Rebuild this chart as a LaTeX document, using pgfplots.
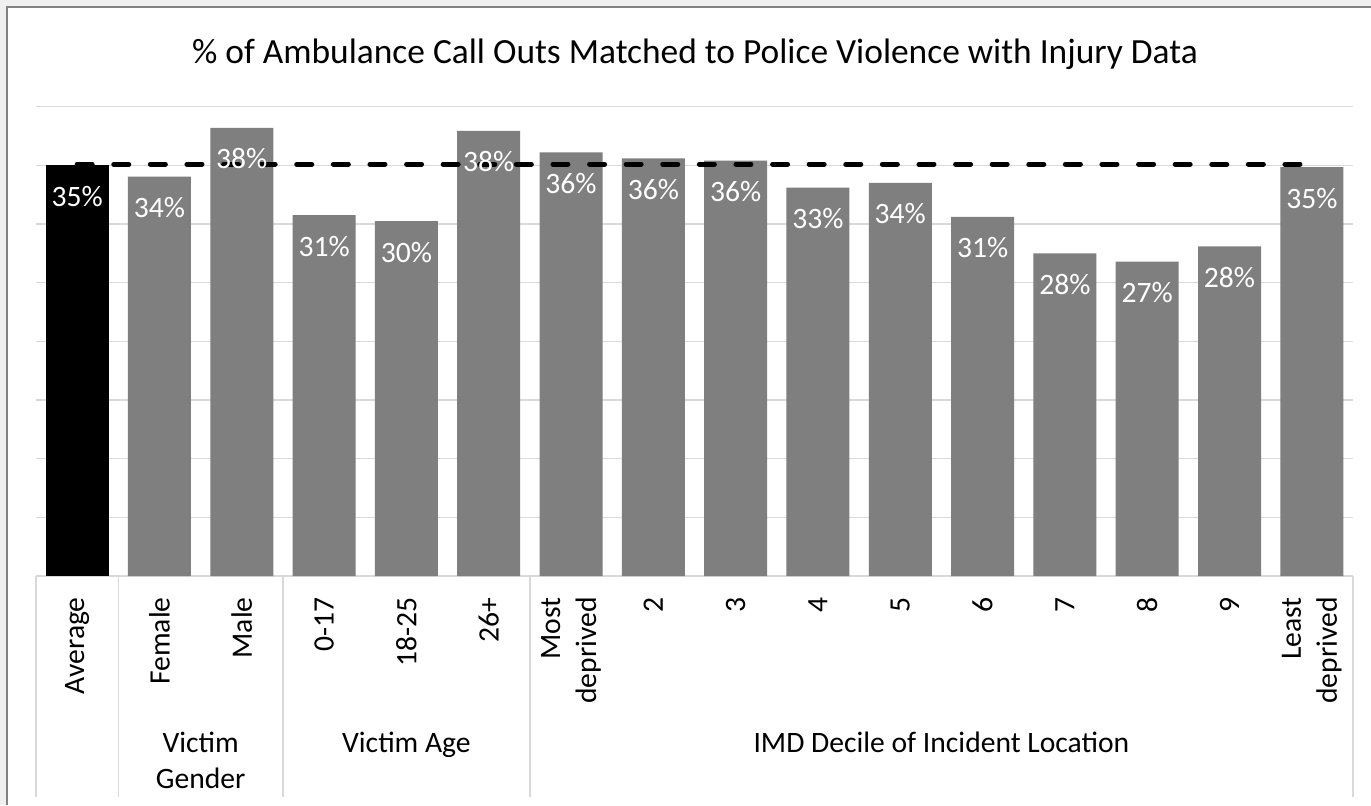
\documentclass[border=0pt]{standalone}
\usepackage{fontspec}
\setmainfont{Carlito}
\usepackage{pgfplots}
\usepackage{pgfplotstable}
\pgfplotsset{compat=1.18}
\definecolor{barg}{RGB}{127,127,127}
\definecolor{gridc}{RGB}{217,217,217}
\definecolor{framec}{RGB}{130,130,130}
\definecolor{outbg}{RGB}{240,240,240}

\pgfplotstableread{
x y lab
1 34.05 34
2 38.2 38
3 30.75 31
4 30.25 30
5 37.95 38
6 36.1 36
7 35.6 36
8 35.4 36
9 33.1 33
10 33.5 34
11 30.6 31
12 27.5 28
13 26.8 27
14 28.1 28
15 34.85 35
}\others

\pgfplotstableread{
x y lab
0 35.0 35
1 34.05 34
2 38.2 38
3 30.75 31
4 30.25 30
5 37.95 38
6 36.1 36
7 35.6 36
8 35.4 36
9 33.1 33
10 33.5 34
11 30.6 31
12 27.5 28
13 26.8 27
14 28.1 28
15 34.85 35
}\alldata

\begin{document}
\begin{tikzpicture}
\useasboundingbox (-18pt,-114.5pt) rectangle (667.5pt,288pt);
\fill[outbg] (-18pt,-114.5pt) rectangle (667.5pt,288pt);
\fill[white] (-14.75pt,-114.5pt) rectangle (667.5pt,284.5pt);
\draw[framec, line width=1pt] (-14.75pt,-114.5pt) -- (-14.75pt,284.5pt) -- (667.5pt,284.5pt);
\begin{axis}[
  at={(0,0)}, anchor=south west,
  scale only axis, width=658.5pt, height=234.65pt,
  xmin=-0.5, xmax=15.5, ymin=0, ymax=40,
  axis line style={draw=none},
  ytick={0,5,...,40}, yticklabel=\empty,
  ymajorgrids, grid style={gridc, line width=0.7pt},
  major tick length=0pt,
  xtick={0,...,15},
  xticklabels={Average, Female, Male, 0-17, 18-25, 26+, Most\\deprived, 2,3,4,5,6,7,8,9, Least\\deprived},
  xticklabel style={rotate=90, anchor=east, align=right, inner sep=0pt, font=\fontsize{14.8}{18}\selectfont},
  xticklabel shift=10.5pt,
  clip=false,
]
\addplot[ybar, bar width=31.5pt, fill=black, draw=none] coordinates {(0,35.0)};
\addplot[ybar, bar width=31.5pt, fill=barg, draw=none] table[x=x,y=y] {\others};
\addplot[black, line width=2.5pt, dash pattern=on 7.5pt off 10.8pt, line cap=round] coordinates {(0,35.1) (15,35.1)};
\addplot[draw=none, point meta=explicit symbolic,
  nodes near coords={\pgfplotspointmeta\%},
  nodes near coords style={white, anchor=center, yshift=-15.5pt, inner sep=0pt, font=\fontsize{14.8}{17}\selectfont}]
  table[x=x, y=y, meta=lab] {\alldata};
\foreach \xx in {-0.5,0.5,2.5,5.5,15.5}{
  \edef\tmp{\noexpand\draw[gridc, line width=0.7pt] (axis cs:\xx,0) -- ++(0pt,-110.5pt);}\tmp
}
\node[font=\fontsize{14.8}{18}\selectfont, anchor=base] at ([yshift=-88pt]axis cs:1.5,0) {Victim};
\node[font=\fontsize{14.8}{18}\selectfont, anchor=base] at ([yshift=-106pt]axis cs:1.5,0) {Gender};
\node[font=\fontsize{14.8}{18}\selectfont, anchor=base] at ([yshift=-88pt]axis cs:4,0) {Victim Age};
\node[font=\fontsize{14.8}{18}\selectfont, anchor=base] at ([yshift=-88pt]axis cs:10.5,0) {IMD Decile of Incident Location};
\end{axis}
\node[font=\fontsize{17.7}{21}\selectfont, anchor=base] at (329.5pt,256.5pt) {\% of Ambulance Call Outs Matched to Police Violence with Injury Data};
\end{tikzpicture}
\end{document}
